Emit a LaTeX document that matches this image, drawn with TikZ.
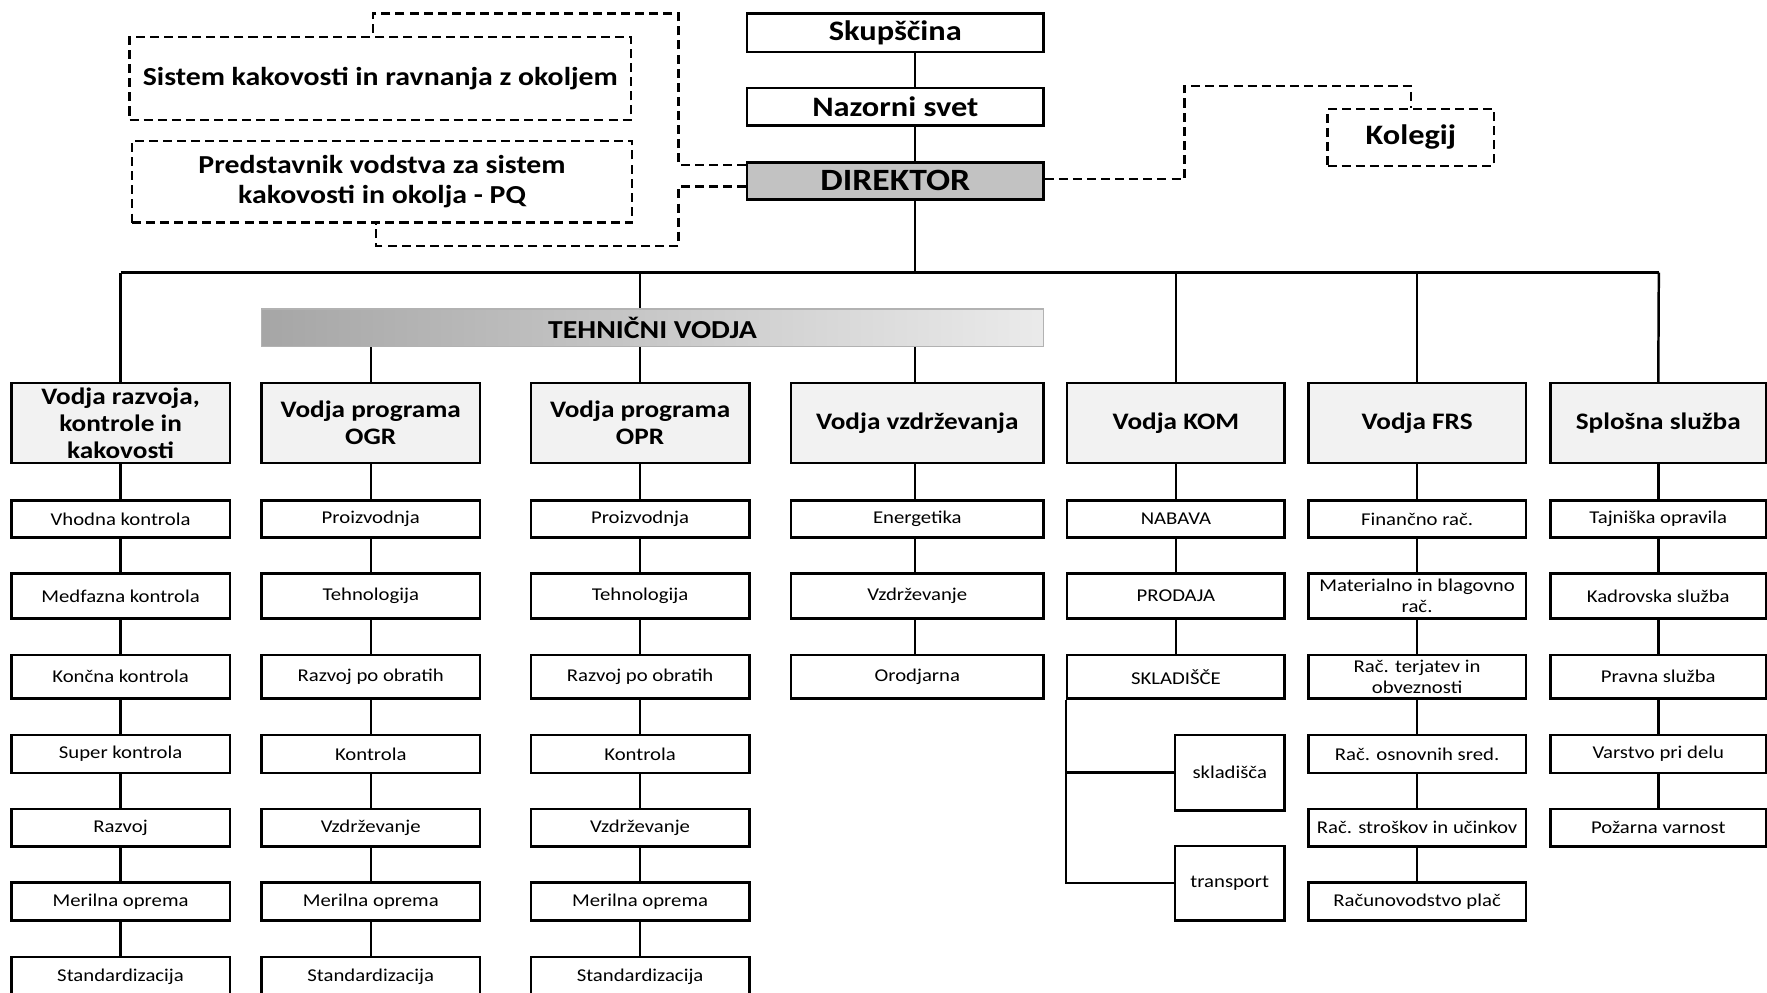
\documentclass[tikz,border=0pt]{standalone}
\usepackage{fontspec}
\setmainfont[FakeStretch=1.15]{Carlito}
\usetikzlibrary{calc}
\tikzset{
  conn/.style={line width=2.2pt},
  dconn/.style={line width=2pt, dash pattern=on 8pt off 4.5pt},
  box/.style={draw, line width=2.2pt, inner sep=0pt, align=center, fill=white, text=black},
  lthree/.style={box, font=\fontsize{16}{18.6}\selectfont},
  ltwo/.style={box, fill=black!5, font=\fontsize{21}{24}\selectfont\bfseries},
  topbox/.style={box, font=\fontsize{25}{28}\selectfont\bfseries},
  dirbox/.style={box, fill=black!24, font=\fontsize{27.5}{30}\selectfont\bfseries},
  dbox/.style={box, line width=2pt, dash pattern=on 8pt off 4.5pt, font=\fontsize{23}{26}\selectfont\bfseries},
  kbox/.style={dbox, font=\fontsize{25}{28}\selectfont\bfseries},
  barbox/.style={draw=black!30, line width=1.5pt, inner sep=0pt, left color=black!35, right color=black!8, font=\fontsize{23}{26}\selectfont\bfseries}
}
\newcommand{\rbox}[7]{%
  \pgfmathsetmacro{\rbcx}{(#3+#5)/2}\pgfmathsetmacro{\rbcy}{(#4+#6)/2}%
  \pgfmathsetmacro{\rbw}{#5-#3}\pgfmathsetmacro{\rbh}{#6-#4}%
  \node[#2, minimum width=\rbw pt, minimum height=\rbh pt] (#1) at (\rbcx,\rbcy) {#7};}
\begin{document}
\begin{tikzpicture}[x=1pt,y=-1pt]
\useasboundingbox (0,0) rectangle (1568,881);
\clip (0,0) rectangle (1568,881);
% top
\rbox{skup}{topbox}{663}{12}{926}{46}{Skupščina}
\rbox{naz}{topbox}{663}{78}{926}{111.5}{Nazorni svet}
\rbox{dir}{dirbox}{663}{144}{926}{177}{DIREKTOR}
\rbox{kol}{kbox}{1178}{97}{1326}{147}{Kolegij}
\rbox{sis}{dbox}{115}{33}{560}{106.5}{Sistem kakovosti in ravnanja z okoljem}
\rbox{pq}{dbox}{117}{125}{561}{197.5}{Predstavnik vodstva za sistem\\kakovosti in okolja - PQ}
\rbox{bar}{barbox}{232}{274}{926}{307.5}{TEHNIČNI VODJA}
% level 2
\rbox{ca}{ltwo}{10}{340}{204}{411}{Vodja razvoja,\\kontrole in\\kakovosti}
\rbox{cb}{ltwo}{232}{340}{426}{411}{Vodja programa\\OGR}
\rbox{cc}{ltwo}{471}{340}{665}{411}{Vodja programa\\OPR}
\rbox{cd}{ltwo}{702}{340}{926}{411}{Vodja vzdrževanja}
\rbox{ce}{ltwo}{947}{340}{1140}{411}{Vodja KOM}
\rbox{cf}{ltwo}{1161}{340}{1354}{411}{Vodja FRS}
\rbox{cg}{ltwo}{1376}{340}{1567}{411}{Splošna služba}
% column 1
\rbox{a1}{lthree}{10}{444}{204}{477}{Vhodna kontrola}
\rbox{a2}{lthree}{10}{509}{204}{549}{Medfazna kontrola}
\rbox{a3}{lthree}{10}{581}{204}{620}{Končna kontrola}
\rbox{a4}{lthree}{10}{652}{204}{686}{Super kontrola}
\rbox{a5}{lthree}{10}{718}{204}{751}{Razvoj}
\rbox{a6}{lthree}{10}{783}{204}{817}{Merilna oprema}
\rbox{a7}{lthree}{10}{849}{204}{893}{\raisebox{12pt}{Standardizacija}}
% column 2
\rbox{b1}{lthree}{232}{444}{426}{477}{Proizvodnja}
\rbox{b2}{lthree}{232}{509}{426}{549}{Tehnologija}
\rbox{b3}{lthree}{232}{581}{426}{620}{Razvoj po obratih}
\rbox{b4}{lthree}{232}{652}{426}{686}{Kontrola}
\rbox{b5}{lthree}{232}{718}{426}{751}{Vzdrževanje}
\rbox{b6}{lthree}{232}{783}{426}{817}{Merilna oprema}
\rbox{b7}{lthree}{232}{849}{426}{893}{\raisebox{12pt}{Standardizacija}}
% column 3
\rbox{c1}{lthree}{471}{444}{665}{477}{Proizvodnja}
\rbox{c2}{lthree}{471}{509}{665}{549}{Tehnologija}
\rbox{c3}{lthree}{471}{581}{665}{620}{Razvoj po obratih}
\rbox{c4}{lthree}{471}{652}{665}{686}{Kontrola}
\rbox{c5}{lthree}{471}{718}{665}{751}{Vzdrževanje}
\rbox{c6}{lthree}{471}{783}{665}{817}{Merilna oprema}
\rbox{c7}{lthree}{471}{849}{665}{893}{\raisebox{12pt}{Standardizacija}}
% column 4
\rbox{d1}{lthree}{702}{444}{926}{477}{Energetika}
\rbox{d2}{lthree}{702}{509}{926}{549}{Vzdrževanje}
\rbox{d3}{lthree}{702}{581}{926}{620}{Orodjarna}
% column 5
\rbox{e1}{lthree}{947}{444}{1140}{477}{NABAVA}
\rbox{e2}{lthree}{947}{509}{1140}{549}{PRODAJA}
\rbox{e3}{lthree}{947}{581}{1140}{620}{SKLADIŠČE}
\rbox{e4}{lthree}{1042.5}{652}{1140}{719}{skladišča}
\rbox{e5}{lthree}{1042.5}{750.5}{1140}{817}{transport}
% column 6
\rbox{f1}{lthree}{1161}{444}{1354}{477}{Finančno rač.}
\rbox{f2}{lthree}{1161}{509}{1354}{549}{Materialno in blagovno\\rač.}
\rbox{f3}{lthree}{1161}{581}{1354}{620}{Rač. terjatev in\\obveznosti}
\rbox{f4}{lthree}{1161}{652}{1354}{686}{Rač. osnovnih sred.}
\rbox{f5}{lthree}{1161}{718}{1354}{751}{Rač. stroškov in učinkov}
\rbox{f6}{lthree}{1161}{783}{1354}{817}{Računovodstvo plač}
% column 7
\rbox{g1}{lthree}{1376}{444}{1567}{477}{Tajniška opravila}
\rbox{g2}{lthree}{1376}{509}{1567}{549}{Kadrovska služba}
\rbox{g3}{lthree}{1376}{581}{1567}{620}{Pravna služba}
\rbox{g4}{lthree}{1376}{652}{1567}{686}{Varstvo pri delu}
\rbox{g5}{lthree}{1376}{718}{1567}{751}{Požarna varnost}
% trunk and bus
\coordinate (tr) at (812,0);
\coordinate (busL) at (107,242);
\coordinate (busR) at (1472,242);
\draw[conn] (skup.south -| tr) -- (naz.north -| tr);
\draw[conn] (naz.south -| tr) -- (dir.north -| tr);
\draw[conn] (dir.south -| tr) -- (tr |- busL);
\draw[conn] (busL) -- (busR);
\draw[conn] (busL) -- (ca.north);
\draw[conn] (cc.north |- busL) -- (cc.north |- bar.north);
\draw[conn] (ce.north |- busL) -- (ce.north);
\draw[conn] (cf.north |- busL) -- (cf.north);
\draw[conn] (busR) -- (cg.north);
\draw[conn] (cb.north |- bar.south) -- (cb.north);
\draw[conn] (cc.north |- bar.south) -- (cc.north);
\draw[conn] (tr |- bar.south) -- (tr |- cd.north);
% columns
\foreach \p/\q in {ca/a1,a1/a2,a2/a3,a3/a4,a4/a5,a5/a6,a6/a7,
                   cb/b1,b1/b2,b2/b3,b3/b4,b4/b5,b5/b6,b6/b7,
                   cc/c1,c1/c2,c2/c3,c3/c4,c4/c5,c5/c6,c6/c7,
                   ce/e1,e1/e2,e2/e3,
                   cf/f1,f1/f2,f2/f3,f3/f4,f4/f5,f5/f6,
                   cg/g1,g1/g2,g2/g3,g3/g4,g4/g5}
  \draw[conn] (\p.south) -- (\q.north);
\foreach \p/\q in {cd/d1,d1/d2,d2/d3}
  \draw[conn] (\p.south -| tr) -- (\q.north -| tr);
\draw[conn] (e3.south west) |- (e4.west);
\draw[conn] (e3.south west) |- (e5.west);
% dashed links
\coordinate (dA) at (602,146.5);
\coordinate (dB) at (602,12);
\coordinate (dC) at (331,12);
\draw[dconn] (dir.west |- dA) -- (dA) -- (dB) -- (dC) -- (dC |- sis.north);
\coordinate (dD) at (602,165.5);
\coordinate (dE) at (602,218);
\coordinate (dF) at (333.5,218);
\draw[dconn] (dir.west |- dD) -- (dD) -- (dE) -- (dF) -- (dF |- pq.south);
\coordinate (kA) at (1051,159);
\coordinate (kB) at (1051,76.5);
\draw[dconn] (dir.east |- kA) -- (kA) -- (kB) -- (kol.north |- kB) -- (kol.north);
\end{tikzpicture}
\end{document}
